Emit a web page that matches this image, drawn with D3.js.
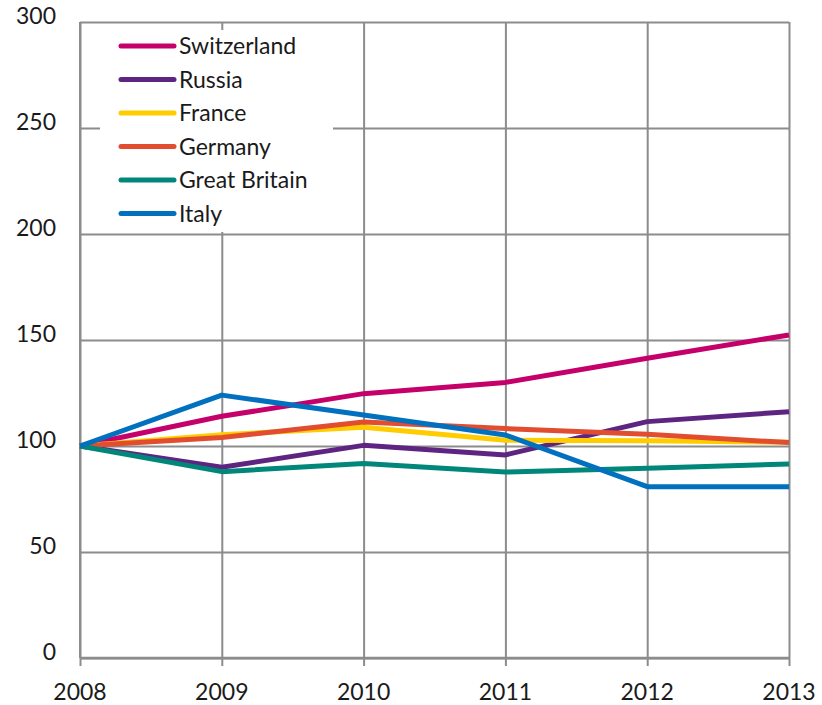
<!DOCTYPE html>
<html>
<head>
<meta charset="utf-8">
<script src="https://cdn.jsdelivr.net/npm/d3@7"></script>
<style>
  body { margin: 0; background: #fff; }
  text { font-family: Lato, "Open Sans", sans-serif; fill: #1a1a1a; }
</style>
</head>
<body>
<svg width="822" height="705"></svg>
<script>
// data
var years = [2008, 2009, 2010, 2011, 2012, 2013];
var yTicks = [0, 50, 100, 150, 200, 250, 300];

var switzerland = [100, 114, 124.7, 130, 141.4, 152.4];
var russia = [100, 90, 100.3, 95.8, 111.5, 116.2];
var france = [100, 105.3, 108.8, 102.7, 102.5, 101.8];
var germany = [100, 104, 111.3, 108.2, 105.5, 101.6];
var greatBritain = [100, 87.9, 91.8, 87.7, 89.5, 91.5];
var italy = [100, 124, 114.6, 105.2, 80.8, 80.8];

var names = ["Switzerland", "Russia", "France", "Germany", "Great Britain", "Italy"];
var colors = ["#c6006b", "#5e2482", "#ffcc00", "#e14d2e", "#00877a", "#0070bf"];

var series = [switzerland, russia, france, germany, greatBritain, italy].map(function(v, i) {
  return { name: names[i], color: colors[i], values: v };
});

var svg = d3.select("svg");
var margin = { left: 80, right: 33, top: 22, bottom: 47 };
var width = 822 - margin.left - margin.right,
    height = 705 - margin.top - margin.bottom;

var g = svg.append("g").attr("transform", "translate(" + margin.left + "," + margin.top + ")");

var x = d3.scaleLinear().domain([2008, 2013]).range([0, width]);
var y = d3.scaleLinear().domain([0, 300]).range([height, 0]);

var gridColor = "#8c8c8c";
var fontSize = "23px";

// horizontal grid
g.append("g")
  .call(d3.axisLeft(y).tickValues(yTicks).tickSize(-width).tickFormat(""))
  .call(function(s) {
    s.select(".domain").remove();
    s.selectAll("line").attr("stroke", gridColor).attr("stroke-width", 2);
  });

// vertical grid + x ticks
g.append("g")
  .attr("transform", "translate(0," + height + ")")
  .call(d3.axisBottom(x).tickValues(years).tickFormat(""))
  .call(function(s) {
    s.select(".domain").remove();
    s.selectAll("line").attr("stroke", gridColor).attr("stroke-width", 2)
      .attr("y1", 8).attr("y2", -height);
  });

// axis lines
g.append("line").attr("x1", 0).attr("x2", 0).attr("y1", 0).attr("y2", height)
  .attr("stroke", gridColor).attr("stroke-width", 2);
g.append("line").attr("x1", 0).attr("x2", width).attr("y1", height).attr("y2", height)
  .attr("stroke", gridColor).attr("stroke-width", 2.5);

// tick labels
g.selectAll(".ylab").data(yTicks).enter().append("text")
  .attr("class", "ylab")
  .attr("x", -24).attr("y", function(d) { return y(d); })
  .attr("dy", "0.1em")
  .attr("text-anchor", "end")
  .style("font-size", fontSize)
  .text(function(d) { return d; });

g.selectAll(".xlab").data(years).enter().append("text")
  .attr("class", "xlab")
  .attr("x", function(d) { return x(d); })
  .attr("y", height + 42)
  .attr("text-anchor", "middle")
  .style("font-size", fontSize)
  .text(function(d) { return d; });

// legend box
var legend = g.append("g").attr("transform", "translate(20,8)");
legend.append("rect").attr("x", 0).attr("y", 0).attr("width", 233).attr("height", 202).attr("fill", "#fff");

var item = legend.selectAll(".item").data(series).enter().append("g")
  .attr("transform", function(d, i) { return "translate(0," + (16 + i * 33.5) + ")"; });
item.append("line").attr("x1", 21).attr("x2", 74).attr("y1", 0).attr("y2", 0)
  .attr("stroke", function(d) { return d.color; })
  .attr("stroke-width", 5).attr("stroke-linecap", "round");
item.append("text").attr("x", 79).attr("y", 0).attr("dy", "0.36em")
  .style("font-size", fontSize)
  .text(function(d) { return d.name; });

// lines
var line = d3.line()
  .x(function(d, i) { return x(years[i]); })
  .y(function(d) { return y(d); });

g.selectAll(".series").data(series).enter().append("path")
  .attr("class", "series")
  .attr("fill", "none")
  .attr("stroke", function(d) { return d.color; })
  .attr("stroke-width", 5)
  .attr("stroke-linejoin", "round")
  .attr("d", function(d) { return line(d.values); });
</script>
</body>
</html>
